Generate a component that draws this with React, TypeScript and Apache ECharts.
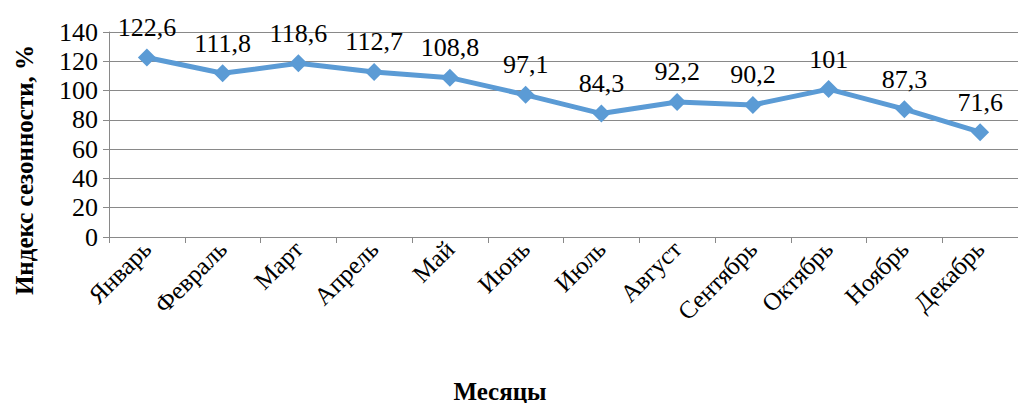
import React, { useEffect, useRef } from "react";
import * as echarts from "echarts";

const categories = ["Январь", "Февраль", "Март", "Апрель", "Май", "Июнь", "Июль", "Август", "Сентябрь", "Октябрь", "Ноябрь", "Декабрь"];
const values = [122.6, 111.8, 118.6, 112.7, 108.8, 97.1, 84.3, 92.2, 90.2, 101, 87.3, 71.6];
const yTitle = "Индекс сезонности, %";
const xTitle = "Месяцы";

const FONT = "Times New Roman";

export default function App() {
  const ref = useRef<HTMLDivElement>(null);
  useEffect(() => {
    document.body.style.margin = "0";
    if (!ref.current) return;
    const chart = echarts.init(ref.current, undefined, { renderer: "svg" });
    chart.setOption({
      animation: false,
      textStyle: { fontFamily: FONT },
      grid: { left: 109, right: -8, top: 32, bottom: 166 },
      xAxis: {
        type: "category",
        data: categories,
        boundaryGap: true,
        axisLine: { lineStyle: { color: "#898989", width: 1 } },
        axisTick: { show: true, length: 6, lineStyle: { color: "#898989" } },
        axisLabel: {
          rotate: 45,
          fontFamily: FONT,
          fontSize: 25,
          color: "#000",
          margin: 8,
        },
      },
      yAxis: {
        type: "value",
        min: 0,
        max: 140,
        interval: 20,
        axisLine: { show: true, lineStyle: { color: "#898989", width: 1 } },
        axisTick: { show: true, length: 6, lineStyle: { color: "#898989" } },
        splitLine: { lineStyle: { color: "#898989", width: 1 } },
        axisLabel: {
          fontFamily: FONT,
          fontSize: 26,
          color: "#000",
          margin: 11,
        },
      },
      graphic: [
        {
          type: "text",
          x: 24,
          y: 170,
          rotation: Math.PI / 2,
          style: {
            text: yTitle,
            fontFamily: FONT,
            fontWeight: "bold",
            fontSize: 25,
            fill: "#000",
            align: "center",
            verticalAlign: "middle",
          },
        },
        {
          type: "text",
          x: 500,
          y: 391,
          style: {
            text: xTitle,
            fontFamily: FONT,
            fontWeight: "bold",
            fontSize: 25,
            fill: "#000",
            align: "center",
            verticalAlign: "middle",
          },
        },
      ],
      series: [
        {
          type: "line",
          data: values,
          symbol: "diamond",
          symbolSize: 18,
          lineStyle: { color: "#5B9BD5", width: 5 },
          itemStyle: { color: "#5B9BD5" },
          label: {
            show: true,
            position: "top",
            distance: 8,
            fontFamily: FONT,
            fontSize: 26,
            color: "#000",
            formatter: (p: any) => String(p.value).replace(".", ","),
          },
        },
      ],
    });
    return () => chart.dispose();
  }, []);
  return <div ref={ref} style={{ width: 1018, height: 403, background: "#fff" }} />;
}
